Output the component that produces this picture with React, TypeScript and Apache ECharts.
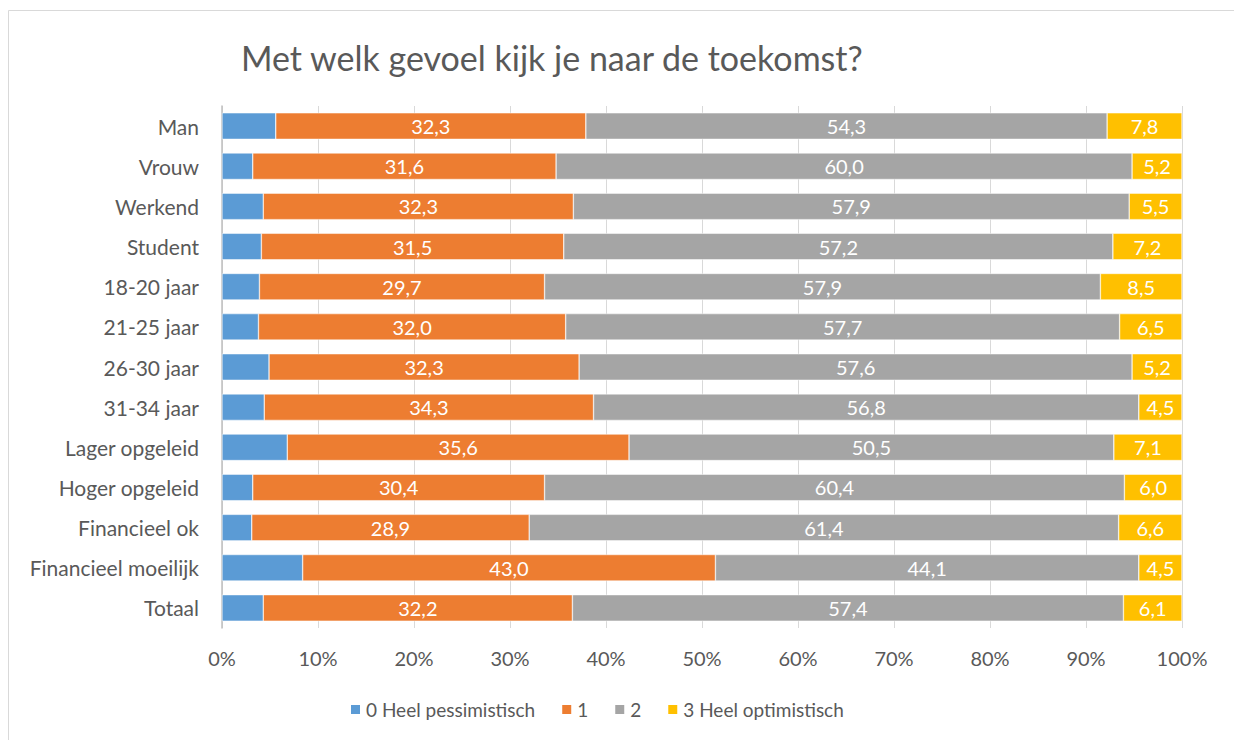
import React, { useEffect, useRef } from "react";
import * as echarts from "echarts";

const categories = [
  "Man",
  "Vrouw",
  "Werkend",
  "Student",
  "18-20 jaar",
  "21-25 jaar",
  "26-30 jaar",
  "31-34 jaar",
  "Lager opgeleid",
  "Hoger opgeleid",
  "Financieel ok",
  "Financieel moeilijk",
  "Totaal",
];

const seriesNames = ["0 Heel pessimistisch", "1", "2", "3 Heel optimistisch"];

const pessimistisch = [5.6, 3.2, 4.3, 4.1, 3.9, 3.8, 4.9, 4.4, 6.8, 3.2, 3.1, 8.4, 4.3];
const score1 = [32.3, 31.6, 32.3, 31.5, 29.7, 32.0, 32.3, 34.3, 35.6, 30.4, 28.9, 43.0, 32.2];
const score2 = [54.3, 60.0, 57.9, 57.2, 57.9, 57.7, 57.6, 56.8, 50.5, 60.4, 61.4, 44.1, 57.4];
const optimistisch = [7.8, 5.2, 5.5, 7.2, 8.5, 6.5, 5.2, 4.5, 7.1, 6.0, 6.6, 4.5, 6.1];

const xTicks = [0, 10, 20, 30, 40, 50, 60, 70, 80, 90, 100];

const colors = ["#5B9BD5", "#ED7D31", "#A5A5A5", "#FFC000"];
const FONT = "Lato, 'Open Sans', sans-serif";
const TEXT = "#595959";

export default function App() {
  const ref = useRef<HTMLDivElement>(null);

  useEffect(() => {
    if (!ref.current) return;
    const chart = echarts.init(ref.current, undefined, { renderer: "svg" });
    const values = [pessimistisch, score1, score2, optimistisch];
    const fmt = (v: number) => v.toFixed(1).replace(".", ",");

    chart.setOption({
      animation: false,
      backgroundColor: "#ffffff",
      textStyle: { fontFamily: FONT },
      graphic: [
        {
          type: "rect",
          shape: { x: 8.5, y: 10.5, width: 1300, height: 800 },
          style: { fill: "none", stroke: "#D9D9D9", lineWidth: 1 },
          silent: true,
        },
      ],
      title: {
        text: "Met welk gevoel kijk je naar de toekomst?",
        left: 236,
        top: 35,
        textStyle: {
          fontFamily: FONT,
          fontSize: 34,
          fontWeight: "normal",
          color: TEXT,
        },
      },
      legend: {
        bottom: 16,
        left: 344,
        itemWidth: 11,
        itemHeight: 11,
        itemGap: 25,
        icon: "rect",
        textStyle: { fontFamily: FONT, fontSize: 19, color: TEXT },
        data: seriesNames,
      },
      grid: { left: 222, right: 52, top: 106, bottom: 112, containLabel: false },
      xAxis: {
        type: "value",
        min: xTicks[0],
        max: xTicks[xTicks.length - 1],
        interval: 10,
        axisLine: { show: false },
        axisTick: { show: false },
        splitLine: { show: true, lineStyle: { color: "#D9D9D9", width: 1 } },
        axisLabel: {
          formatter: "{value}%",
          fontFamily: FONT,
          fontSize: 20,
          color: TEXT,
          margin: 20,
        },
      },
      yAxis: {
        type: "category",
        inverse: true,
        data: categories,
        axisLine: { show: true, lineStyle: { color: "#BFBFBF", width: 1.5 } },
        axisTick: { show: false },
        axisLabel: {
          fontFamily: FONT,
          fontSize: 21,
          color: TEXT,
          margin: 23,
        },
      },
      series: seriesNames.map((name, i) => ({
        name,
        type: "bar",
        stack: "total",
        barCategoryGap: "34%",
        data: values[i],
        itemStyle: { color: colors[i], borderColor: "#ffffff", borderWidth: 0.5 },
        label: {
          show: i > 0,
          position: "inside",
          color: "#ffffff",
          fontFamily: FONT,
          fontSize: 20,
          formatter: (p: any) => fmt(p.value),
        },
      })),
    });

    return () => chart.dispose();
  }, []);

  return (
    <div
      ref={ref}
      style={{ position: "fixed", left: 0, top: 0, width: 1234, height: 740 }}
    />
  );
}
